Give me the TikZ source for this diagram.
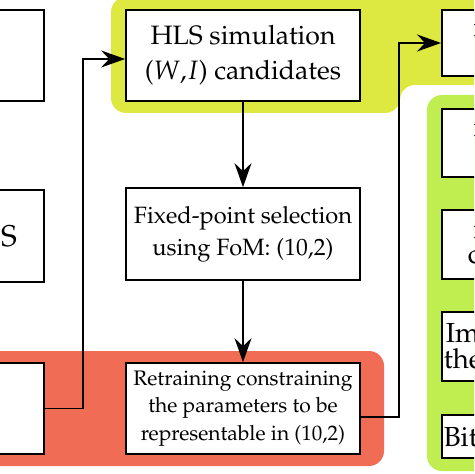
\documentclass[tikz,border=0pt]{standalone}
\usepackage[T1]{fontenc}
\usepackage{mathpazo}
\usetikzlibrary{arrows.meta}

\definecolor{hlsyellow}{RGB}{221,232,64}
\definecolor{fpgagreen}{RGB}{192,238,80}
\definecolor{trainred}{RGB}{240,108,84}

\tikzset{
  box/.style={draw, line width=0.85pt, fill=white, inner sep=0pt, align=center},
  sidebox/.style={box, anchor=west, inner xsep=1pt, text width=70pt, align=left,
    font=\fontsize{13.8}{12.8}\selectfont},
  link/.style={-{Stealth[length=12pt,width=8.5pt,inset=4pt]}, line width=0.65pt},
}

\begin{document}
\begin{tikzpicture}[x=0.5pt,y=-0.5pt]
\useasboundingbox (0,0) rectangle (474,474);
\clip (0,0) rectangle (474,474);
% coloured groups
\fill [hlsyellow, rounded corners=7.5pt] (111,-3) -- (111,113) -- (400,113)
  -- (400,85) -- (600,85) -- (600,-3) -- cycle;
\fill [fpgagreen, rounded corners=7.5pt] (427,95) rectangle (600,471);
\fill [trainred, rounded corners=7.5pt] (-100,351) rectangle (384,466);
% left column
\node [box, minimum width=35pt, minimum height=45.5pt] (model) at (9,55.5) {};
\node [box, minimum width=35pt, minimum height=46pt,
  font=\fontsize{15}{17}\selectfont] (specs) at (9,236) {S};
\node [box, minimum width=35pt, minimum height=45.5pt] (train) at (9,408.5) {};
% middle column
\node [box, minimum width=117pt, minimum height=45.5pt,
  font=\fontsize{13.3}{17.5}\selectfont] (hls) at (243,55.5)
  {HLS simulation\\($W$,$I$) candidates};
\node [box, minimum width=117pt, minimum height=46pt,
  font=\fontsize{11.8}{16}\selectfont] (fixp) at (243,234)
  {Fixed-point selection\\using FoM: (10,2)};
\node [box, minimum width=117pt, minimum height=45.5pt,
  font=\fontsize{10.5}{13.75}\selectfont] (retrain) at (243,408.5)
  {Retraining constraining\\the parameters to be\\representable in (10,2)};
% right column
\node [sidebox, minimum height=33pt] (export) at (441,43) {\hspace*{15pt}n\\\mbox{}};
\node [sidebox, minimum height=34pt] (synth) at (441,143) {\hspace*{15pt}n\\\mbox{}};
\node [sidebox, minimum height=34.5pt] (report) at (441,244.5)
  {\hspace*{15pt}n\\\hspace*{12pt}c};
\node [sidebox, minimum height=34.5pt] (impl) at (441,346.5) {\hspace*{1pt}Im\\the};
\node [sidebox, minimum height=21.5pt] (bits) at (441,436.5) {Bit};
% connections
\draw [link] (train.east) -- ++(38,0) |- ([yshift=-1.75pt]hls.west);
\draw [link] (hls) -- (fixp);
\draw [link] (fixp) -- (retrain);
\draw [link] ([yshift=-4.25pt]retrain.east) -- ++(38,0) |- (export.west);
\end{tikzpicture}
\end{document}
